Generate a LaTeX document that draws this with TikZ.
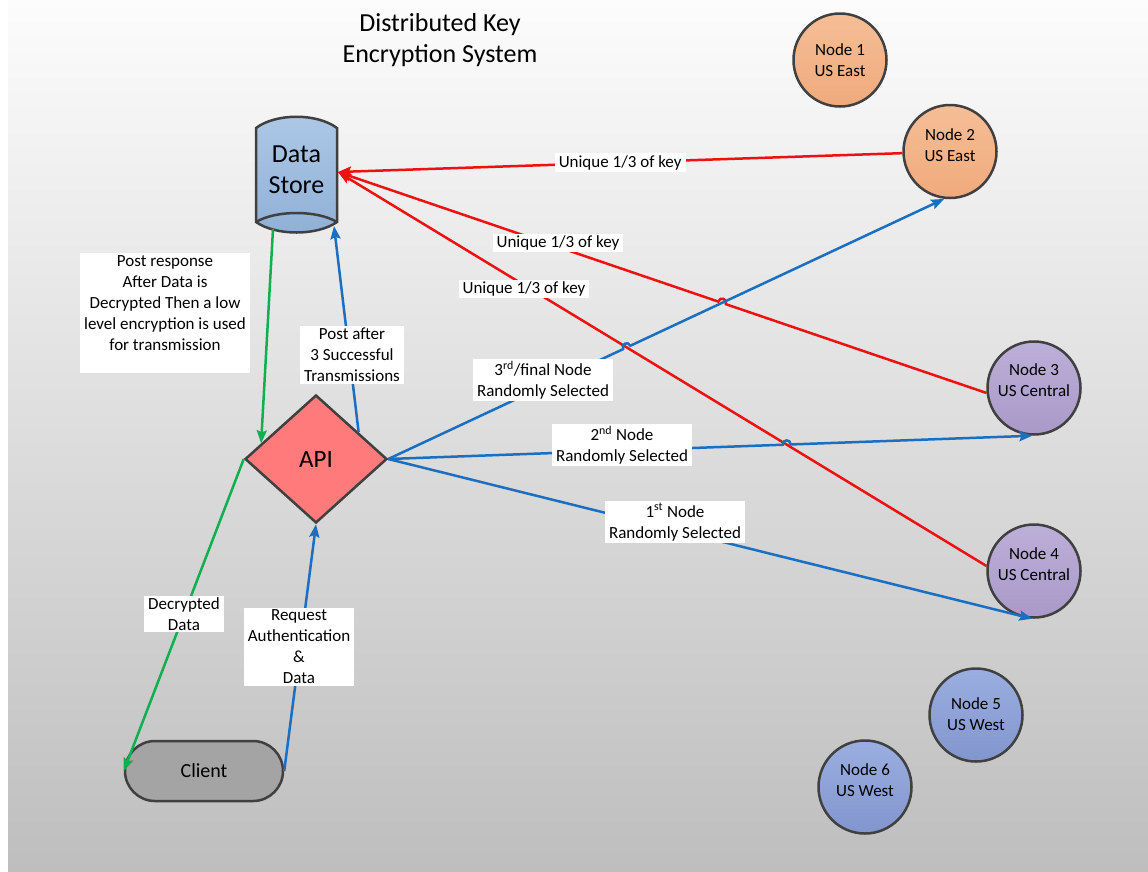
\documentclass[tikz,border=0pt]{standalone}
\usepackage{fontspec}
\setmainfont{Carlito}
\usetikzlibrary{arrows.meta,shapes.geometric,intersections,calc}
\definecolor{bgtop}{HTML}{FCFCFC}
\definecolor{bgbot}{HTML}{BEBEBE}
\definecolor{edge}{HTML}{404040}
\definecolor{redln}{HTML}{EE1111}
\definecolor{blueln}{HTML}{1A6FC2}
\definecolor{greenln}{HTML}{10B050}
\definecolor{orT}{HTML}{F6BE96}
\definecolor{orB}{HTML}{EFAA7C}
\definecolor{puT}{HTML}{BCAFD8}
\definecolor{puB}{HTML}{A999C8}
\definecolor{blT}{HTML}{9AAEE0}
\definecolor{blB}{HTML}{8296CE}
\definecolor{dsT}{HTML}{ADC8E6}
\definecolor{dsB}{HTML}{8FB0D6}
\definecolor{apiC}{HTML}{FF7B7B}
\definecolor{cliC}{HTML}{A4A4A4}
\tikzset{
  srv/.style={circle, draw=edge, line width=2.5pt, minimum size=93pt, inner sep=0pt},
  srvtxt/.style={align=center, inner sep=0pt, font=\fontsize{17}{21}\selectfont},
  srvE/.style={srv, top color=orT, bottom color=orB},
  srvC/.style={srv, top color=puT, bottom color=puB},
  srvW/.style={srv, top color=blT, bottom color=blB},
  lbl/.style={fill=white, inner xsep=4pt, inner ysep=2pt, align=center,
    font=\fontsize{17}{21}\selectfont},
  tip/.style={-{Stealth[length=13pt,width=10pt,inset=2pt]}},
  rl/.style={tip, draw=redln, line width=2.5pt},
  bl/.style={tip, draw=blueln, line width=2.5pt},
  gl/.style={tip, draw=greenln, line width=2.5pt},
  hopl/.style={bend left=90, looseness=1.8},
  hopr/.style={bend right=90, looseness=1.8},
}
\begin{document}
\begin{tikzpicture}[x=1pt,y=-1pt]
\useasboundingbox (0,0) rectangle (1148,871);
\fill[white] (0,0) rectangle (1148,871);
\shade[top color=bgtop, bottom color=bgbot] (8,0) rectangle (1148,871);

% title
\node[align=center, font=\fontsize{26}{31}\selectfont] (title) at (440,40) {Distributed Key\\Encryption System};

% data store
\filldraw[draw=edge, line width=2.5pt, top color=dsT, bottom color=dsB]
  (256,128) .. controls (276,113) and (317,113) .. (337,128) -- (337,222)
  .. controls (317,236) and (276,236) .. (256,222) -- cycle;
\draw[draw=edge, line width=2.5pt] (256,222) .. controls (276,210) and (317,210) .. (337,222);
\node[align=center, font=\fontsize{26}{31}\selectfont] (ds) at (296.5,170) {Data\\Store};
\coordinate (dsin) at (338,172);
\coordinate (dsbl) at (273,229);
\coordinate (dsbr) at (334,226);

% API
\node[diamond, draw=edge, line width=2.5pt, fill=apiC, minimum width=142pt, minimum height=128pt,
  inner sep=0pt, font=\fontsize{25}{30}\selectfont] (api) at (316,459) {API};
% client
\node[draw=edge, line width=2.5pt, fill=cliC, rounded corners=30pt, minimum width=158pt,
  minimum height=60pt, font=\fontsize{20}{24}\selectfont] (cli) at (204,771) {Client};

% server nodes
\node[srvE, label={[srvtxt]center:{Node 1\\US East}}] (n1) at (840,60) {};
\node[srvE, label={[srvtxt, yshift=6pt]center:{Node 2\\US East}}] (n2) at (950,151.5) {};
\node[srvC, label={[srvtxt, yshift=8pt]center:{Node 3\\US Central}}] (n3) at (1034,388) {};
\node[srvC, label={[srvtxt, yshift=7pt]center:{Node 4\\US Central}}] (n4) at (1034,571) {};
\node[srvW, label={[srvtxt, yshift=1pt]center:{Node 5\\US West}}] (n5) at (976,715) {};
\node[srvW, label={[srvtxt, yshift=7pt]center:{Node 6\\US West}}] (n6) at (865,787) {};

\coordinate (apitr) at ($(api.north)!0.59!(api.east)$);
\coordinate (apitl) at ($(api.west)!0.24!(api.north)$);

% crossing points
\path[name path=b2] (api.east) -- (n2.263);
\path[name path=b3] (api.east) -- (n3.268);
\path[name path=r3] (n3.186) -- (dsin);
\path[name path=r4] (n4.174) -- (dsin);
\path[name intersections={of=r3 and b2, by=h1}];
\path[name intersections={of=b2 and r4, by=h2}];
\path[name intersections={of=b3 and r4, by=h3}];

% red connectors
\draw[rl] (n2.182) -- (dsin);
\draw[rl] (n3.186) -- ($(h1)!4pt!(n3.186)$) to[hopr] ($(h1)!4pt!(dsin)$) -- (dsin);
\draw[rl] (n4.174) -- (dsin);

% blue connectors
\draw[bl] (api.east) -- ($(h2)!4pt!(api.east)$) to[hopl] ($(h2)!4pt!(n2.263)$) -- (n2.263);
\draw[bl] (api.east) -- ($(h3)!4pt!(api.east)$) to[hopl] ($(h3)!4pt!(n3.268)$) -- (n3.268);
\draw[bl] (api.east) -- (n4.268);
\draw[bl] (apitr) -- (dsbr);
\draw[bl] (cli.east) -- (api.south);

% green connectors
\draw[gl] (dsbl) -- (apitl);
\draw[gl] (api.west) -- (cli.west);

% labels
\node[lbl] (l1) at ($(n2.182)!0.5!(dsin)$) {Unique 1/3 of key};
\node[lbl] (l2) at (558,243) {Unique 1/3 of key};
\node[lbl] (l3) at (524,289) {Unique 1/3 of key};
\node[lbl] (l4) at (543,380) {3\textsuperscript{rd}/final Node\\Randomly Selected};
\node[lbl] (l5) at (622,445) {2\textsuperscript{nd} Node\\Randomly Selected};
\node[lbl] (l6) at (675,522) {1\textsuperscript{st} Node\\Randomly Selected};
\node[lbl] (l7) at (352,355) {Post after\\3 Successful\\Transmissions};
\node[lbl, anchor=north] (l8) at (165,253)
  {Post response\\After Data is\\Decrypted Then a low\\level encryption is used\\for transmission\\\mbox{}};
\node[lbl] (l9) at (184,614) {Decrypted\\Data};
\node[lbl] (l10) at (299,647) {Request\\Authentication\\\&\\Data};
\end{tikzpicture}
\end{document}
